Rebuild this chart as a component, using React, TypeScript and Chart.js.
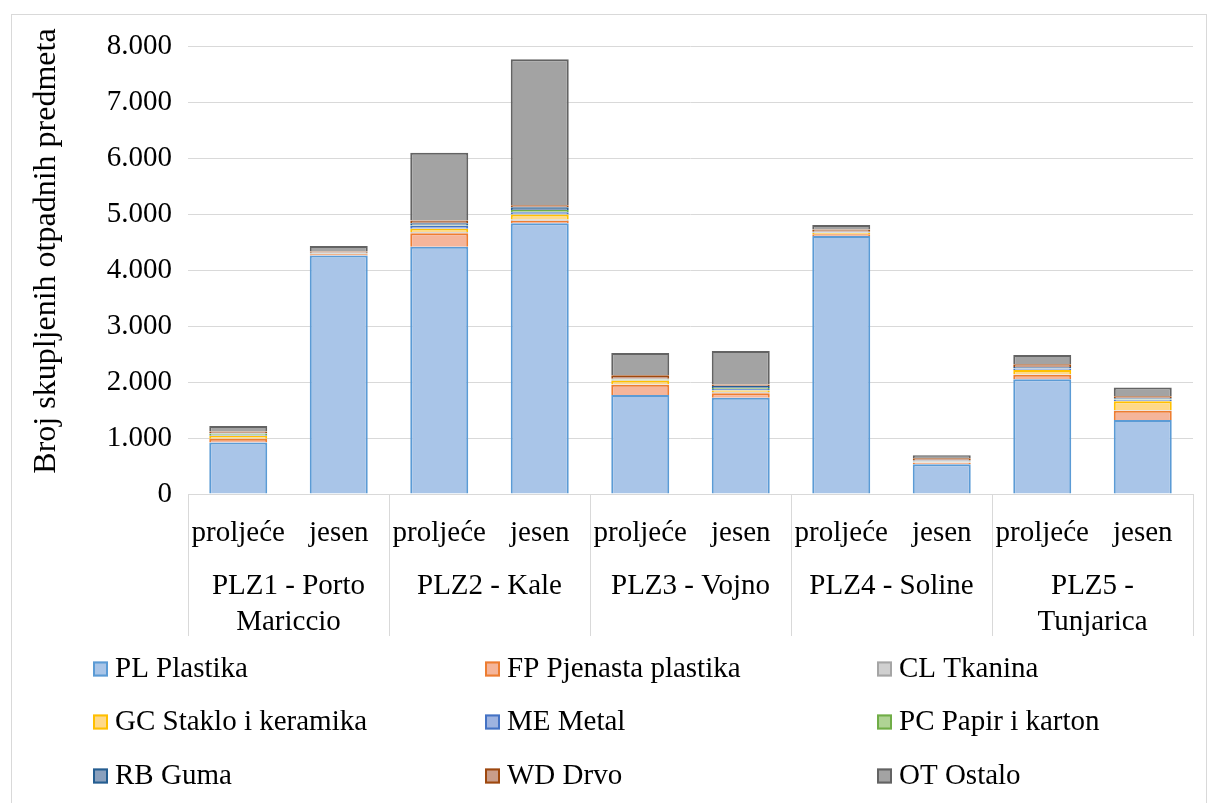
import React, { useEffect, useRef } from "react";
import { Chart, registerables } from "chart.js";

Chart.register(...registerables);

const categories = ["proljeće", "jesen", "proljeće", "jesen", "proljeće", "jesen", "proljeće", "jesen", "proljeće", "jesen"];
const groups: (string | string[])[] = [["PLZ1 - Porto", "Mariccio"], "PLZ2 - Kale", "PLZ3 - Vojno", "PLZ4 - Soline", ["PLZ5 -", "Tunjarica"]];
const yTicks = [0, 1000, 2000, 3000, 4000, 5000, 6000, 7000, 8000];

const PL = [920, 4260, 4415, 4835, 1770, 1720, 4605, 530, 2050, 1320];
const FP = [60, 20, 240, 45, 180, 80, 35, 30, 80, 165];
const CL = [5, 5, 20, 20, 10, 15, 5, 5, 10, 10];
const GC = [55, 5, 60, 90, 65, 35, 15, 10, 75, 160];
const ME = [15, 10, 50, 40, 15, 25, 10, 10, 25, 30];
const PC = [20, 5, 10, 40, 10, 20, 5, 5, 5, 5];
const RB = [10, 5, 40, 50, 10, 35, 10, 10, 25, 20];
const WD = [30, 20, 50, 35, 60, 25, 40, 40, 45, 35];
const OT = [100, 100, 1210, 2610, 400, 600, 80, 50, 165, 155];

const seriesNames = ["PL Plastika", "FP Pjenasta plastika", "CL Tkanina", "GC Staklo i keramika", "ME Metal", "PC Papir i karton", "RB Guma", "WD Drvo", "OT Ostalo"];
const seriesData = [PL, FP, CL, GC, ME, PC, RB, WD, OT];
const fills = ["#a9c5e8", "#f5b59a", "#d0d0d0", "#ffd98a", "#9eb3e0", "#afd394", "#8aa0bd", "#c99d8a", "#a3a3a3"];
const borders = ["#5b9bd5", "#ed7d31", "#a5a5a5", "#ffc000", "#4472c4", "#70ad47", "#255e91", "#9e480e", "#636363"];

const FONT = "'Liberation Serif', 'Times New Roman', serif";
const yTitle = "Broj skupljenih otpadnih predmeta";

const fmt = (v: number) => String(v).replace(/\B(?=(\d{3})+(?!\d))/g, ".");

export default function App() {
  const ref = useRef<HTMLCanvasElement>(null);
  useEffect(() => {
    document.body.style.margin = "0";
    const canvas = ref.current!;
    const extras = {
      id: "extras",
      afterDraw(chart: any) {
        const ctx = chart.ctx;
        const area = chart.chartArea;
        ctx.save();
        ctx.strokeStyle = "#d9d9d9";
        ctx.lineWidth = 1;
        ctx.strokeRect(11.5, 14.5, 1195, 800);
        const gw = (area.right - area.left) / groups.length;
        ctx.beginPath();
        for (let i = 0; i <= groups.length; i++) {
          const x = Math.round(area.left + i * gw) + 0.5;
          ctx.moveTo(x, area.bottom);
          ctx.lineTo(x, 636);
        }
        ctx.stroke();
        ctx.fillStyle = "#000";
        ctx.font = `32px ${FONT}`;
        ctx.textAlign = "center";
        ctx.textBaseline = "middle";
        ctx.translate(47, 251);
        ctx.rotate(-Math.PI / 2);
        ctx.fillText(yTitle, 0, 0);
        ctx.restore();
        ctx.save();
        const cols = [93, 485, 877];
        const rows = [669, 722, 776];
        ctx.font = `29px ${FONT}`;
        ctx.textBaseline = "middle";
        ctx.textAlign = "left";
        chart.data.datasets.forEach((ds: any, i: number) => {
          const x = cols[i % 3];
          const y = rows[Math.floor(i / 3)];
          ctx.fillStyle = ds.backgroundColor;
          ctx.fillRect(x, y - 7.5, 15, 15);
          ctx.strokeStyle = ds.borderColor;
          ctx.lineWidth = 2;
          ctx.strokeRect(x + 1, y - 6.5, 13, 13);
          ctx.fillStyle = "#000";
          ctx.fillText(ds.label, x + 22, y);
        });
        ctx.restore();
      },
    };
    const chart = new Chart(canvas, {
      type: "bar",
      data: {
        labels: categories,
        datasets: seriesNames.map((name, i) => ({
          label: name,
          data: seriesData[i],
          backgroundColor: fills[i],
          borderColor: borders[i],
          borderWidth: 2,
          barPercentage: 0.577,
          categoryPercentage: 1,
        })),
      },
      options: {
        responsive: false,
        animation: false,
        layout: { padding: { left: 0, top: 46, right: 16, bottom: 159 } },
        plugins: { legend: { display: false }, tooltip: { enabled: false } },
        scales: {
          x: {
            stacked: true,
            offset: true,
            grid: { display: false },
            border: { display: true, color: "#d9d9d9", width: 1 },
            ticks: { color: "#000", font: { family: FONT, size: 29 }, padding: 14, maxRotation: 0, autoSkip: false },
            afterFit: (s: any) => { s.height = 64; },
          },
          x2: {
            type: "category",
            position: "bottom",
            labels: groups as any,
            offset: true,
            grid: { display: false },
            border: { display: false },
            ticks: { color: "#000", font: { family: FONT, size: 29, lineHeight: 1.24 }, padding: 2, maxRotation: 0, autoSkip: false },
            afterFit: (s: any) => { s.height = 86; },
          },
          y: {
            stacked: true,
            min: 0,
            max: 8000,
            afterBuildTicks: (s: any) => { s.ticks = yTicks.map((v) => ({ value: v })); },
            grid: { color: "#d9d9d9", lineWidth: 1, drawTicks: false },
            border: { display: false },
            ticks: { color: "#000", font: { family: FONT, size: 29 }, padding: 16, callback: (v: any) => fmt(Number(v)) },
            afterFit: (s: any) => { s.width = 188; },
          },
        },
      },
      plugins: [extras],
    });
    return () => chart.destroy();
  }, []);
  return <canvas ref={ref} width={1209} height={803} style={{ display: "block" }} />;
}
